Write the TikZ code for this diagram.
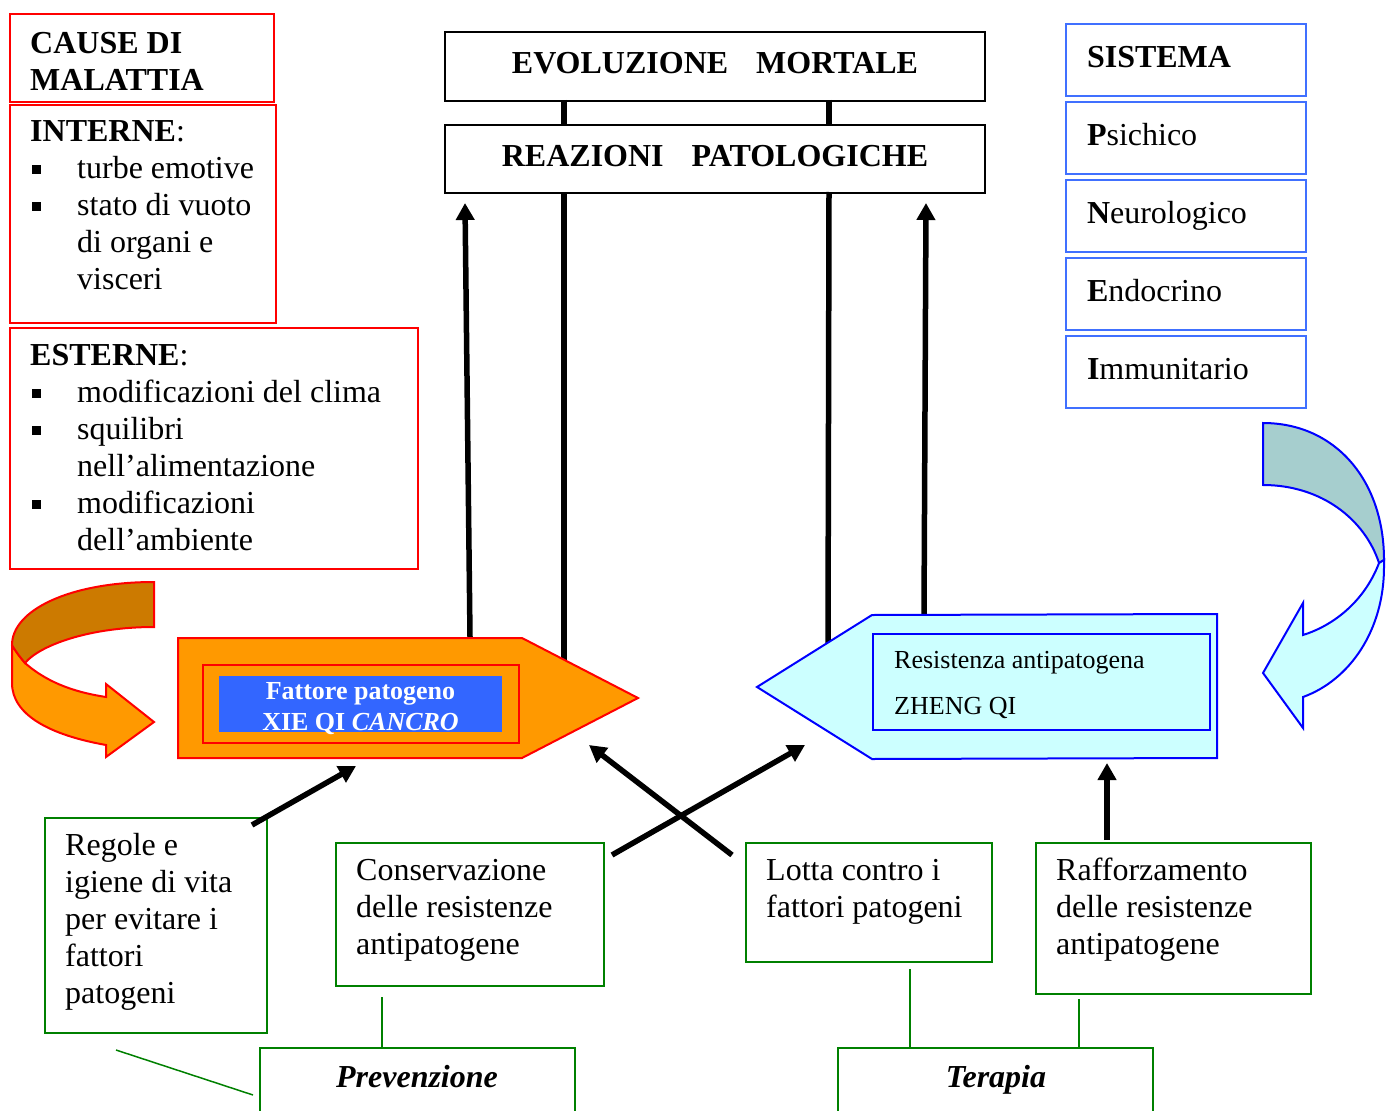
\documentclass[tikz,border=0pt]{standalone}
\usepackage{fontspec}
\setmainfont{Liberation Serif}
\usetikzlibrary{arrows.meta}
\definecolor{cRed}{RGB}{255,0,0}
\definecolor{cGreen}{RGB}{0,128,0}
\definecolor{cSys}{RGB}{64,112,255}
\definecolor{cBlue}{RGB}{0,0,255}
\definecolor{cOrange}{RGB}{255,153,0}
\definecolor{cOrangeD}{RGB}{204,122,0}
\definecolor{cCyan}{RGB}{204,255,255}
\definecolor{cTeal}{RGB}{166,206,206}
\definecolor{cFill}{RGB}{51,102,255}
\newcommand\mybullet{\makebox[47pt][l]{\hspace*{2pt}\rule[4.5pt]{9pt}{9pt}}}
\newcommand\myindent{\hspace*{47pt}}
\begin{document}
\begin{tikzpicture}[x=1pt,y=-1pt,
  box/.style={draw, rectangle, inner sep=0pt, anchor=north west, line width=2pt},
  redbox/.style={box, draw=cRed},
  blkbox/.style={box, draw=black, align=center, minimum width=540pt, font=\fontsize{32}{37}\selectfont\bfseries},
  grnbox/.style={box, draw=cGreen},
  sysbox/.style={box, draw=cSys, align=left, text width=198pt, inner xsep=21pt, minimum width=240pt, minimum height=72pt, font=\fontsize{32}{37}\selectfont},
  tx/.style={anchor=north west, inner sep=0pt, align=left, font=\fontsize{32}{37}\selectfont},
  thickarrow/.style={line width=5.5pt, -{Triangle[length=17pt,width=18pt]}},
  thickline/.style={line width=5.5pt},
  thinline/.style={draw=cGreen, line width=1.5pt}]
\useasboundingbox (0,0) rectangle (1388,1110);
\clip (0,0) rectangle (1388,1110);

% ---------- left column: causes ----------
\node[redbox, minimum width=264pt, minimum height=88pt] (cause) at (9,13) {};
\node[tx] (causeT) at (30,27) {\strut\textbf{CAUSE DI}\\\strut\textbf{MALATTIA}};
\node[redbox, minimum width=266pt, minimum height=218pt] (interne) at (9,104) {};
\node[tx] (interneT) at (30,115) {\strut\textbf{INTERNE}:\\
  \strut\mybullet turbe emotive\\
  \strut\mybullet stato di vuoto\\
  \strut\myindent di organi e\\
  \strut\myindent visceri};
\node[redbox, minimum width=408pt, minimum height=241pt] (esterne) at (9,327) {};
\node[tx] (esterneT) at (30,339) {\strut\textbf{ESTERNE}:\\
  \strut\mybullet modificazioni del clima\\
  \strut\mybullet squilibri\\
  \strut\myindent nell’alimentazione\\
  \strut\mybullet modificazioni\\
  \strut\myindent dell’ambiente};

% ---------- top centre ----------
\node[blkbox, minimum height=69pt] (evol) at (444,31) {\strut EVOLUZIONE\hspace{28pt}MORTALE};
\node[blkbox, minimum height=68pt] (reaz) at (444,124) {\strut REAZIONI\hspace{28pt}PATOLOGICHE};

% ---------- sistema ----------
\node[sysbox] (sis) at (1065,23) {\strut\textbf{SISTEMA}};
\node[sysbox] (psi) at (1065,101) {\strut\textbf{P}sichico};
\node[sysbox] (neu) at (1065,179) {\strut\textbf{N}eurologico};
\node[sysbox] (end) at (1065,257) {\strut\textbf{E}ndocrino};
\node[sysbox] (imm) at (1065,335) {\strut\textbf{I}mmunitario};

% ---------- coordinates for connectors ----------
\coordinate (e1) at (564,100); \coordinate (r1) at (564,124);
\coordinate (e2) at (829,100); \coordinate (r2) at (829,124);
\coordinate (r1b) at (564,192); \coordinate (oSl) at (564,660);
\coordinate (r2b) at (829,192); \coordinate (cSl) at (828,643);
\coordinate (oTop) at (470,637); \coordinate (rA1) at (465,203);
\coordinate (cTop) at (924,614); \coordinate (rA2) at (926,203);
\coordinate (regT) at (252,825); \coordinate (oBot) at (356,766);
\coordinate (conT) at (612,855); \coordinate (cBotL) at (805,745);
\coordinate (lotT) at (732,855); \coordinate (oBotR) at (589,745);
\coordinate (rafT) at (1107,840); \coordinate (cBot) at (1107,763);

% ---------- black connectors ----------
\draw[thickline] (e1) -- (r1);
\draw[thickline] (e2) -- (r2);
\draw[thickline] (r1b) -- (oSl);
\draw[thickline] (r2b) -- (cSl);
\draw[thickarrow] (oTop) -- (rA1);
\draw[thickarrow] (cTop) -- (rA2);

% ---------- orange pentagon ----------
\draw[fill=cOrange, draw=cRed, line width=2pt]
  (178,638) -- (522,638) -- (638,698) -- (522,758) -- (178,758) -- cycle;
\draw[cRed, line width=2pt] (203,665) rectangle (519,743);
\fill[cFill] (219,676) rectangle (502,732);
\node[anchor=north, inner sep=0pt, align=center, text=white,
      font=\fontsize{26}{31}\selectfont\bfseries] (fatt) at (360.5,677.3)
  {\strut Fattore patogeno\\\strut XIE QI \textit{CANCRO}};

% ---------- cyan pentagon ----------
\draw[fill=cCyan, draw=cBlue, line width=2pt]
  (757,687) -- (872,615) -- (1217,614) -- (1217,758) -- (872,759) -- cycle;
\draw[cBlue, line width=2pt] (873,634) rectangle (1210,730);
\node[tx, font=\fontsize{26}{46}\selectfont] (resT) at (894,635.8)
  {\strut Resistenza antipatogena\\\strut ZHENG QI};

% ---------- left curved arrow ----------
\draw[fill=cOrange, draw=cRed, line width=2pt]
  (12,645) .. controls (16,652) and (20,657) .. (25,663)
  .. controls (50,685) and (80,693) .. (106,697)
  -- (106,684) -- (154,722) -- (106,757) -- (106,745)
  .. controls (50,735) and (12,715) .. (12,683) -- cycle;
\draw[fill=cOrangeD, draw=cRed, line width=2pt]
  (154,582) .. controls (70,582) and (12,610) .. (12,645)
  .. controls (16,652) and (20,657) .. (25,663)
  .. controls (40,645) and (90,627) .. (154,627) -- cycle;

% ---------- right curved arrow ----------
\draw[fill=cTeal, draw=cBlue, line width=2pt]
  (1263,423) .. controls (1335,423) and (1384,480) .. (1384,560)
  -- (1379,563) .. controls (1365,520) and (1322,485) .. (1263,485) -- cycle;
\draw[fill=cCyan, draw=cBlue, line width=2pt]
  (1384,560) -- (1384,567) .. controls (1384,630) and (1350,680) .. (1303,697)
  -- (1303,728) -- (1263,673) -- (1303,603) -- (1303,635)
  .. controls (1335,625) and (1365,600) .. (1379,563) -- cycle;

% ---------- green boxes ----------
\node[grnbox, minimum width=222pt, minimum height=215pt] (reg) at (44,817) {};
\node[tx] (regT2) at (65,829) {\strut Regole e\\\strut igiene di vita\\\strut per evitare i\\\strut fattori\\\strut patogeni};
\node[grnbox, minimum width=268pt, minimum height=143pt] (con) at (335,842) {};
\node[tx] (conT2) at (356,854) {\strut Conservazione\\\strut delle resistenze\\\strut antipatogene};
\node[grnbox, minimum width=246pt, minimum height=119pt] (lot) at (745,842) {};
\node[tx] (lotT2) at (766,854) {\strut Lotta contro i\\\strut fattori patogeni};
\node[grnbox, minimum width=275pt, minimum height=151pt] (raf) at (1035,842) {};
\node[tx] (rafT2) at (1056,854) {\strut Rafforzamento\\\strut delle resistenze\\\strut antipatogene};
\node[grnbox, minimum width=315pt, minimum height=100pt] (prev) at (259,1047) {};
\node[anchor=base, inner sep=0pt, font=\fontsize{32}{37}\selectfont\bfseries\itshape] (prevT) at (417,1087) {Prevenzione};
\node[grnbox, minimum width=315pt, minimum height=100pt] (ter) at (837,1047) {};
\node[anchor=base, inner sep=0pt, font=\fontsize{32}{37}\selectfont\bfseries\itshape] (terT) at (996,1087) {Terapia};

% ---------- green thin connectors ----------
\coordinate (g1a) at (382,997); \coordinate (g1b) at (382,1047);
\coordinate (g2a) at (116,1050); \coordinate (g2b) at (253,1095);
\coordinate (g3a) at (910,969); \coordinate (g3b) at (910,1047);
\coordinate (g4a) at (1079,999); \coordinate (g4b) at (1079,1047);
\draw[thinline] (g1a) -- (g1b);
\draw[thinline] (g2a) -- (g2b);
\draw[thinline] (g3a) -- (g3b);
\draw[thinline] (g4a) -- (g4b);

% ---------- lower black arrows ----------
\draw[thickarrow] (regT) -- (oBot);
\draw[thickarrow] (conT) -- (cBotL);
\draw[thickarrow] (lotT) -- (oBotR);
\draw[thickarrow] (rafT) -- (cBot);
\end{tikzpicture}
\end{document}
